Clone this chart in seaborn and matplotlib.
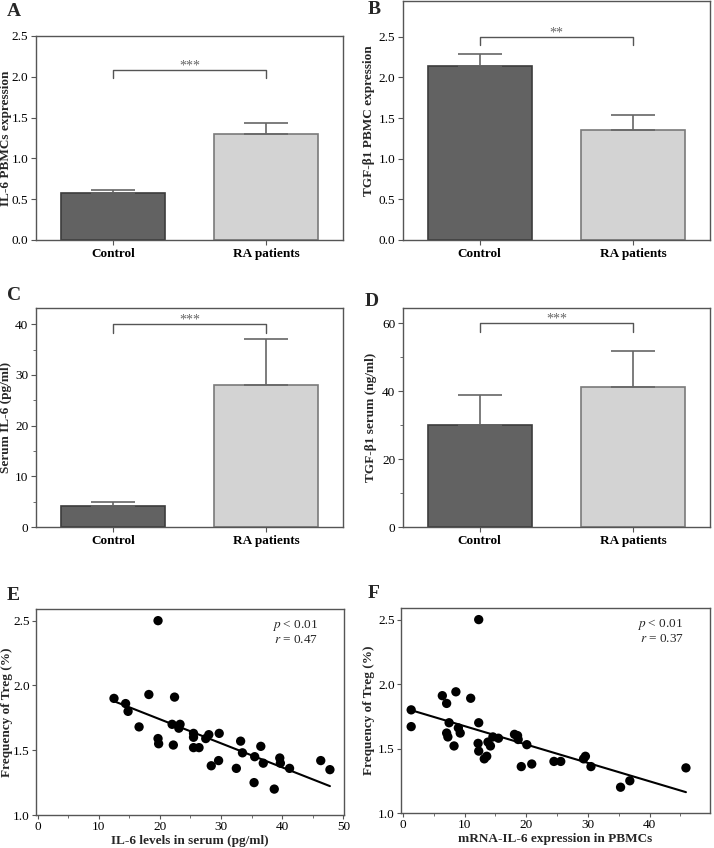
import numpy as np
import pandas as pd
import matplotlib
matplotlib.use("Agg")
import matplotlib.pyplot as plt
from matplotlib.ticker import MultipleLocator, FormatStrFormatter
import seaborn as sns

# ---- data ----
groups = ["Control", "RA patients"]

il6_pbmc = [0.58, 1.30]
il6_pbmc_err = [0.03, 0.13]

tgf_pbmc = [2.14, 1.35]
tgf_pbmc_err = [0.15, 0.19]

il6_serum = [4.2, 28.1]
il6_serum_err = [0.8, 8.9]

tgf_serum = [30.0, 41.3]
tgf_serum_err = [9.0, 10.4]

# significance brackets: (bracket top, leg bottom, stars label)
sig_a = (2.08, 1.98, "***")
sig_b = (2.50, 2.40, "**")
sig_c = (40.1, 38.3, "***")
sig_d = (60.1, 57.5, "***")

e_il6 = [12.5, 14.4, 14.8, 16.6, 18.2, 19.7, 19.7, 19.8, 22.0, 22.4, 22.2, 23.1,
         23.3, 25.5, 25.5, 25.5, 26.4, 27.5, 28.0, 28.4, 29.7, 29.6, 32.5, 33.2,
         33.5, 35.5, 35.4, 36.5, 36.9, 38.7, 39.6, 39.7, 41.2, 46.3, 47.8]
e_treg = [1.90, 1.86, 1.80, 1.68, 1.93, 2.50, 1.59, 1.55, 1.70, 1.91, 1.54, 1.67,
          1.70, 1.63, 1.60, 1.52, 1.52, 1.59, 1.62, 1.38, 1.63, 1.42, 1.36, 1.57,
          1.48, 1.45, 1.25, 1.53, 1.40, 1.20, 1.44, 1.40, 1.36, 1.42, 1.35]

f_mrna = [1.35, 1.35, 6.4, 7.1, 7.1, 7.3, 7.5, 8.3, 8.6, 9.0, 9.3, 11.0, 12.3,
          12.3, 12.2, 12.3, 13.2, 13.6, 13.8, 14.2, 14.6, 15.5, 18.1, 18.6, 18.7,
          19.2, 20.1, 20.9, 24.5, 25.6, 29.3, 29.6, 30.5, 35.3, 36.8, 45.9]
f_treg = [1.80, 1.67, 1.91, 1.85, 1.62, 1.59, 1.70, 1.52, 1.94, 1.66, 1.62, 1.89,
          2.50, 1.70, 1.54, 1.48, 1.42, 1.44, 1.55, 1.52, 1.59, 1.58, 1.61, 1.60,
          1.57, 1.36, 1.53, 1.38, 1.40, 1.40, 1.42, 1.44, 1.36, 1.20, 1.25, 1.35]

stats_e = "$p$ < 0.01\n$r$ = 0.47"
stats_f = "$p$ < 0.01\n$r$ = 0.37"

# ---- style ----
sns.set_style("ticks")
plt.rcParams["font.family"] = ["Liberation Serif", "DejaVu Serif"]
plt.rcParams["mathtext.fontset"] = "stix"
plt.rcParams["axes.edgecolor"] = "#555555"
plt.rcParams["xtick.color"] = "#555555"
plt.rcParams["ytick.color"] = "#555555"
plt.rcParams["xtick.labelcolor"] = "black"
plt.rcParams["ytick.labelcolor"] = "black"

W, H = 714, 848
fig = plt.figure(figsize=(W / 100, H / 100), dpi=100)

FS = 9.5


def box(l, t, r, b):
    return [l / W, 1 - b / H, (r - l) / W, (b - t) / H]


bar_colors = ["#626262", "#d3d3d3"]
bar_edges = ["#3c3c3c", "#7a7a7a"]


def bar_panel(rect, vals, errs, ylim, major, minor, ylabel, sig, letter, letter_xy, lab_x):
    ax = fig.add_axes(box(*rect))
    df = pd.DataFrame({"group": groups, "value": vals})
    sns.barplot(data=df, x="group", y="value", hue="group", palette=bar_colors,
                width=0.68, errorbar=None, legend=False, ax=ax, linewidth=1.2)
    for patch, ec in zip(ax.patches, bar_edges):
        patch.set_edgecolor(ec)
    ax.errorbar(range(len(vals)), vals, yerr=[np.zeros(len(vals)), errs], fmt="none",
                ecolor="#666666", elinewidth=1.2, capsize=15.5, capthick=1.2, zorder=1)
    top, leg, stars = sig
    ax.plot([0, 0, 1, 1], [leg, top, top, leg], color="#555555", lw=1.0)
    ax.annotate(stars, xy=(0.5, top), xytext=(0, 3), textcoords="offset points",
                ha="center", va="center", fontsize=10, color="#666666")
    ax.set_xlim(-0.5, 1.5)
    ax.set_ylim(*ylim)
    ax.yaxis.set_major_locator(MultipleLocator(major))
    if minor:
        ax.yaxis.set_minor_locator(MultipleLocator(minor))
    if major < 1:
        ax.yaxis.set_major_formatter(FormatStrFormatter("%.1f"))
    ax.set_xlabel("")
    ax.set_ylabel(ylabel, fontsize=FS, fontweight="bold")
    ax.yaxis.set_label_coords(lab_x, 0.5)
    ax.tick_params(axis="both", labelsize=FS, length=3.5, pad=2)
    ax.tick_params(axis="y", which="minor", length=2.5)
    for lab in ax.get_xticklabels():
        lab.set_fontweight("bold")
    for s in ax.spines.values():
        s.set_visible(True)
        s.set_linewidth(1.0)
    fig.text(letter_xy[0] / W, 1 - letter_xy[1] / H, letter, fontsize=14,
             fontweight="bold", ha="left", va="center")
    return ax


bar_panel((36, 36, 343, 240), il6_pbmc, il6_pbmc_err, (0, 2.5), 0.5, None,
          "IL-6 PBMCs expression", sig_a, "A", (7, 12), -0.077)
bar_panel((403, 1, 710, 240), tgf_pbmc, tgf_pbmc_err, (0, 2.94), 0.5, None,
          "TGF-β1 PBMC expression", sig_b, "B", (368, 10), -0.09)
bar_panel((36, 308, 343, 527), il6_serum, il6_serum_err, (0, 43.2), 10, 5,
          "Serum IL-6 (pg/ml)", sig_c, "C", (7, 295), -0.078)
bar_panel((403, 308, 710, 527), tgf_serum, tgf_serum_err, (0, 64.5), 20, 10,
          "TGF-β1 serum (ng/ml)", sig_d, "D", (365, 301), -0.085)


def scatter_panel(rect, xs, ys, xlabel, stats, letter, letter_xy, xlim, lab_x):
    ax = fig.add_axes(box(*rect))
    df = pd.DataFrame({"x": xs, "y": ys})
    sns.scatterplot(data=df, x="x", y="y", color="black", s=45, edgecolor="none", ax=ax,
                    zorder=3)
    sns.regplot(data=df, x="x", y="y", scatter=False, ci=None, truncate=True,
                line_kws={"color": "black", "lw": 1.5}, ax=ax)
    ax.set_xlim(*xlim)
    ax.set_ylim(1.0, 2.59)
    ax.xaxis.set_major_locator(MultipleLocator(10))
    ax.xaxis.set_minor_locator(MultipleLocator(5))
    ax.yaxis.set_major_locator(MultipleLocator(0.5))
    ax.yaxis.set_major_formatter(FormatStrFormatter("%.1f"))
    ax.set_xlabel(xlabel, fontsize=FS, fontweight="bold", labelpad=1)
    ax.set_ylabel("Frequency of Treg (%)", fontsize=FS, fontweight="bold")
    ax.yaxis.set_label_coords(lab_x, 0.5)
    ax.tick_params(labelsize=FS, length=3, pad=1.5)
    ax.tick_params(which="minor", length=2)
    for s in ax.spines.values():
        s.set_visible(True)
        s.set_linewidth(1.0)
    ax.text(0.915, 0.955, stats, transform=ax.transAxes, ha="right", va="top",
            multialignment="right", fontsize=FS, linespacing=1.1)
    fig.text(letter_xy[0] / W, 1 - letter_xy[1] / H, letter, fontsize=14,
             fontweight="bold", ha="left", va="center")
    return ax


scatter_panel((36, 609, 344, 815), e_il6, e_treg, "IL-6 levels in serum (pg/ml)",
              stats_e, "E", (7, 596), (-0.25, 50.1), -0.075)
scatter_panel((401, 608, 710, 813), f_mrna, f_treg, "mRNA-IL-6 expression in PBMCs",
              stats_f, "F", (368, 593), (-0.3, 49.8), -0.084)

fig.savefig("out.png", dpi=100)
